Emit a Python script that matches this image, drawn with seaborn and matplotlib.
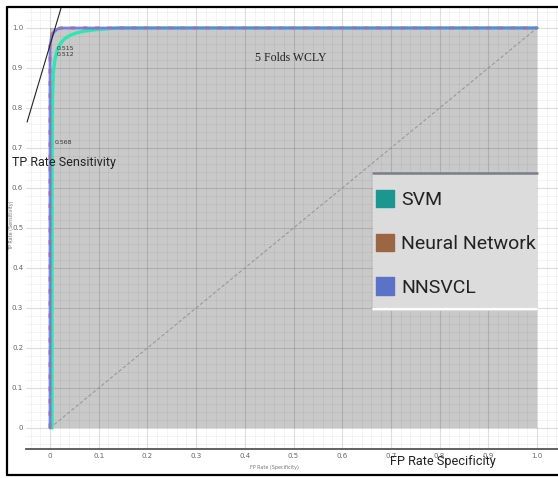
import numpy as np
import pandas as pd
import matplotlib
matplotlib.use("Agg")
import matplotlib.pyplot as plt
import seaborn as sns
from matplotlib.patches import Patch, Rectangle
from matplotlib.lines import Line2D

# ---------------- data ----------------
svm_fpr = [0.004, 0.004, 0.005, 0.007, 0.010, 0.015, 0.022, 0.030, 0.040, 0.055, 0.070, 0.095, 0.140, 1.0]
svm_tpr = [0.0, 0.60, 0.82, 0.89, 0.92, 0.945, 0.962, 0.973, 0.981, 0.988, 0.992, 0.996, 1.0, 1.0]

nn_fpr = [0.0, 0.0, 0.0, 0.004, 0.010, 0.020, 1.0]
nn_tpr = [0.0, 0.50, 0.965, 0.985, 0.996, 1.0, 1.0]

nnsvcl_fpr = [0.0, 0.0, 0.0, 0.003, 0.008, 0.016, 0.025, 1.0]
nnsvcl_tpr = [0.0, 0.50, 0.955, 0.978, 0.990, 0.998, 1.0, 1.0]

diag = [0.0, 1.0]
area_x = [0.0, 1.0]

tick_vals = [0.0, 0.1, 0.2, 0.3, 0.4, 0.5, 0.6, 0.7, 0.8, 0.9, 1.0]
tick_labels = ["0", "0.1", "0.2", "0.3", "0.4", "0.5", "0.6", "0.7", "0.8", "0.9", "1.0"]

legend_labels = ["SVM", "Neural Network", "NNSVCL"]
legend_colors = ["#1b9690", "#9c6644", "#5a72c8"]

annot_text = ["0.515", "0.512", "0.568"]
annot_x = [0.013, 0.013, 0.010]
annot_y = [0.948, 0.934, 0.713]

# stray line seen in upper-left of the picture
stray_x = [-0.047, 0.030]
stray_y = [0.765, 1.08]

# ---------------- style ----------------
sns.set_style("white")
plt.rcParams["font.family"] = ["DejaVu Sans"]
NARROW = ["Roboto", "DejaVu Sans"]

W, H = 558, 478
fig = plt.figure(figsize=(W / 100, H / 100), dpi=100)
ax = fig.add_axes([26 / W, 1 - 449 / H, 532 / W, 441 / H])

ax.set_xlim(-24 / 487, 508 / 487)
ax.set_ylim(-21 / 400, 420 / 400)

# gray area
ax.fill_between(area_x, [0, 0], [1, 1], color="#c9c9c9", lw=0, zorder=0.3)

# grid
ax.set_axisbelow(True)
ax.set_xticks(tick_vals)
ax.set_yticks(tick_vals)
ax.set_xticklabels(tick_labels)
ax.set_yticklabels(tick_labels)
minor = np.round(np.arange(-0.04, 1.05, 0.02), 2)
ax.set_xticks(minor, minor=True)
ax.set_yticks(minor, minor=True)
ax.grid(which="major", color="black", alpha=0.13, lw=0.8, zorder=0.5)
ax.grid(which="minor", color="black", alpha=0.05, lw=0.6, zorder=0.5)
ax.tick_params(which="both", length=0)
ax.tick_params(axis="x", pad=3, labelsize=5, labelcolor="#666")
ax.tick_params(axis="y", pad=2, labelsize=5, labelcolor="#666")
for s in ["top", "right", "left"]:
    ax.spines[s].set_visible(False)
ax.spines["bottom"].set_color("#555555")
ax.spines["bottom"].set_linewidth(1.3)

# diagonal
sns.lineplot(x=diag, y=diag, ax=ax, color="#999999", lw=0.8, linestyle=(0, (3, 2)), zorder=2)

# curves (SVM below, NNSVCL on top)
sns.lineplot(x=svm_fpr, y=svm_tpr, ax=ax, sort=False, estimator=None, color="#2ee6b2",
             lw=2.4, zorder=3)
sns.lineplot(x=nn_fpr, y=nn_tpr, ax=ax, sort=False, estimator=None, color="#f08040", lw=2.2,
             linestyle=(0, (1.5, 2.5)), zorder=4)
sns.lineplot(x=nnsvcl_fpr, y=nnsvcl_tpr, ax=ax, sort=False, estimator=None, color="#7474e4",
             lw=2.0, alpha=0.9, zorder=5)

# stray line
ax.plot(stray_x, stray_y, color="#222222", lw=0.8, zorder=6)

# annotations
for t, x, y in zip(annot_text, annot_x, annot_y):
    ax.text(x, y, t, fontsize=4.5, color="#333333", ha="left", va="center", zorder=7)

ax.text(0.495, 0.925, "5 Folds WCLY", fontsize=8.5, family=["Liberation Serif", "DejaVu Serif"],
        ha="center", va="center", color="#222222")

# axis titles (large) and tiny originals
fig.text(12 / W, 1 - 163 / H, "TP Rate Sensitivity", fontsize=9, family=NARROW,
         ha="left", va="center", color="#222222")
fig.text(390 / W, 1 - 461 / H, "FP Rate Specificity", fontsize=9.2, family=NARROW,
         ha="left", va="center", color="#222222")
fig.text(12 / W, 1 - 225 / H, "TP Rate (Sensitivity)", fontsize=3.5, rotation=90,
         ha="center", va="center", color="#777777")
fig.text(274 / W, 1 - 468 / H, "FP Rate (Specificity)", fontsize=3.5,
         ha="center", va="center", color="#777777")

# legend background
fig.add_artist(Rectangle((373 / W, 1 - 311 / H), 164 / W, 138 / H, transform=fig.transFigure,
                         facecolor="#dcdcdc", edgecolor="none", zorder=8))
fig.add_artist(Line2D([373 / W, 537 / W], [1 - 173 / H, 1 - 173 / H], transform=fig.transFigure,
                      color="#7a7e86", lw=1.8, zorder=9))
fig.add_artist(Line2D([373 / W, 537 / W], [1 - 309 / H, 1 - 309 / H], transform=fig.transFigure,
                      color="white", lw=1.5, zorder=9))

handles = [Patch(facecolor=c, edgecolor=c) for c in legend_colors]
leg = fig.legend(handles, legend_labels, loc="upper left",
                 bbox_to_anchor=(376 / W, 1 - 190 / H), bbox_transform=fig.transFigure,
                 frameon=False, borderpad=0, borderaxespad=0,
                 handlelength=0.93, handleheight=1.0, handletextpad=0.35,
                 labelspacing=1.25, prop={"family": NARROW, "size": 14})
for t in leg.get_texts():
    t.set_color("#222222")
leg.set_zorder(10)

# outer frame (top, left, bottom)
fc = "black"
fig.add_artist(Line2D([7 / W, 1.0], [1 - 7 / H, 1 - 7 / H], transform=fig.transFigure, color=fc, lw=1.6, zorder=11))
fig.add_artist(Line2D([7 / W, 7 / W], [1 - 7 / H, 1 - 475 / H], transform=fig.transFigure, color=fc, lw=1.6, zorder=11))
fig.add_artist(Line2D([7 / W, 1.0], [1 - 475 / H, 1 - 475 / H], transform=fig.transFigure, color=fc, lw=1.6, zorder=11))

fig.savefig("out.png", dpi=100)
